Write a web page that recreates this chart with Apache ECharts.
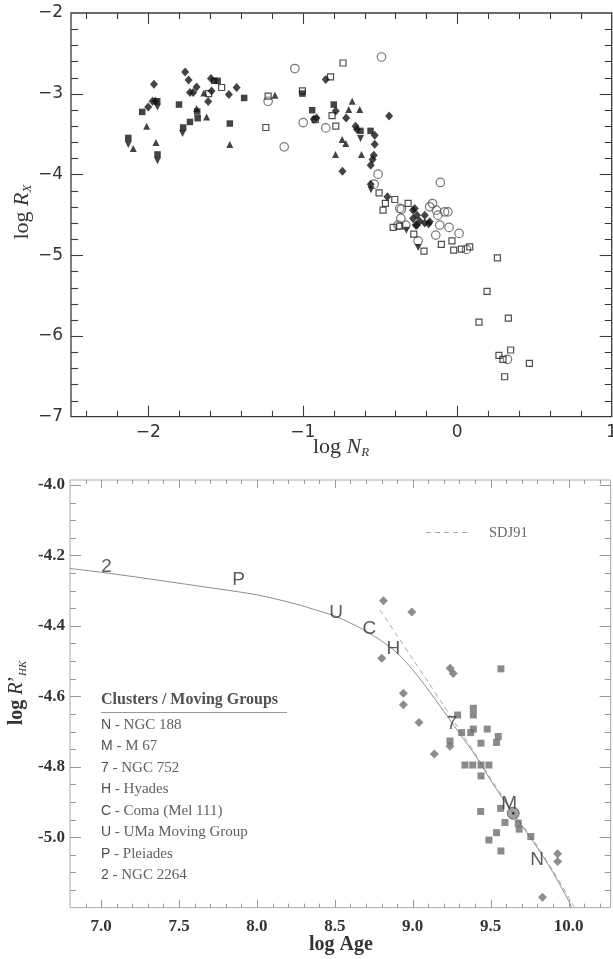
<!DOCTYPE html>
<html><head><meta charset="utf-8">
<script src="https://cdn.jsdelivr.net/npm/echarts@6/dist/echarts.min.js"></script>
<style>html,body{margin:0;padding:0;background:#fff}#c{width:613px;height:959px}</style>
</head><body><div id="c"></div>
<script>
// ---------- TOP PANEL DATA (log N_R vs log R_X) ----------
const topDiamonds = [[-1.963,-2.883],[-1.761,-2.730],[-1.739,-2.829],[-1.687,-2.916],[-1.730,-2.985],[-1.709,-2.985],[-1.594,-2.81],[-1.590,-2.965],[-1.612,-3.097],[-1.478,-3.01],[-1.428,-2.923],[-2.0,-3.163],[-1.972,-3.093],[-1.955,-3.093],
  [-0.851,-2.824],[-0.911,-3.30],[-0.928,-3.315],[-0.786,-3.213],[-0.719,-3.30],[-0.658,-3.402],[-0.648,-3.443],[-0.534,-3.514],[-0.534,-3.625],[-0.54,-3.761],[-0.548,-3.814],[-0.56,-3.885],[-0.743,-3.96],[-0.441,-3.275],[-0.56,-4.12],[-0.452,-4.277],
  [-0.275,-4.421],[-0.26,-4.504],[-0.286,-4.545],[-0.243,-4.578],[-0.21,-4.60],[-0.269,-4.627],[-0.178,-4.587],[-0.286,-4.444],[-0.21,-4.506],[-0.185,-4.609],[-0.261,-4.63]];
const topSquares = [[-1.573,-2.84],[-1.551,-2.84],[-1.379,-3.052],[-2.039,-3.225],[-1.942,-3.093],[-1.801,-3.134],[-1.683,-3.22],[-1.68,-3.303],[-1.73,-3.349],[-1.774,-3.418],[-1.472,-3.369],[-2.129,-3.547],[-1.94,-3.752],[-1.002,-2.998],[-0.939,-3.204],[-0.799,-3.134],[-0.626,-3.46],[-0.561,-3.46]];
const topTriangles = [[-1.640,-2.99],[-1.687,-3.183],[-1.622,-3.287],[-2.01,-3.402],[-1.472,-3.629],[-2.097,-3.678],[-1.95,-3.604],[-1.18,-3.018],[-0.68,-3.093],[-0.702,-3.196],[-0.631,-3.196],[-0.745,-3.567],[-0.721,-3.616],[-0.788,-3.752],[-0.62,-3.752]];
const topInvTriangles = [[-1.94,-3.163],[-1.778,-3.493],[-2.129,-3.629],[-1.94,-3.83],[-0.626,-3.555],[-0.329,-4.69],[-0.253,-4.903],[-0.558,-4.19]];
const topOpenSquares = [[-1.525,-2.923],[-1.609,-2.998],[-1.224,-3.03],[-1.239,-3.418],[-0.739,-2.619],[-0.82,-2.79],[-1.002,-2.965],[-0.919,-3.32],[-0.81,-3.27],[-0.786,-3.402],[-0.506,-4.228],[-0.465,-4.359],[-0.48,-4.442],[-0.404,-4.31],[-0.318,-4.359],[-0.415,-4.656],[-0.372,-4.64],[-0.281,-4.739],[-0.215,-4.949],[-0.103,-4.866],[-0.034,-4.822],[-0.023,-4.937],[0.027,-4.924],[0.081,-4.896],[0.26,-5.034],[0.193,-5.448],[0.141,-5.828],[0.331,-5.779],[0.346,-6.174],[0.27,-6.24],[0.296,-6.29],[0.467,-6.339],[0.307,-6.505]];
const topOpenCircles = [[-1.224,-3.093],[-1.051,-2.688],[-0.49,-2.545],[-0.997,-3.357],[-1.12,-3.658],[-0.851,-3.423],[-0.512,-3.996],[-0.538,-4.12],[-0.372,-4.42],[-0.16,-4.36],[-0.109,-4.099],[-0.361,-4.43],[-0.081,-4.463],[-0.06,-4.463],[-0.135,-4.442],[-0.178,-4.40],[-0.125,-4.504],[-0.113,-4.627],[-0.053,-4.656],[0.012,-4.73],[-0.139,-4.751],[-0.365,-4.545],[-0.383,-4.627],[-0.333,-4.627],[-0.253,-4.822],[0.06,-4.928],[0.325,-6.29]];
const topXLabels = [-2,-1,0,1];
const topYLabels = [-7,-6,-5,-4,-3,-2];
const topXMajor = [-2,-1,0];
const topXMinor = [-2.4,-2.2,-1.8,-1.6,-1.4,-1.2,-0.8,-0.6,-0.4,-0.2,0.2,0.4,0.6,0.8];
const topYMajor = [-6,-5,-4,-3];
const topYMinor = [-6.8,-6.6,-6.4,-6.2,-5.8,-5.6,-5.4,-5.2,-4.8,-4.6,-4.4,-4.2,-3.8,-3.6,-3.4,-3.2,-2.8,-2.6,-2.4,-2.2];

// ---------- BOTTOM PANEL DATA (log Age vs log R'HK) ----------
const curveSolid = [[6.8,-4.237],[7.0,-4.248],[7.25,-4.263],[7.5,-4.279],[7.75,-4.295],[8.0,-4.312],[8.25,-4.338],[8.4,-4.358],[8.5,-4.372],[8.6,-4.392],[8.7,-4.415],[8.8,-4.443],[8.9,-4.477],[9.0,-4.525],[9.1,-4.582],[9.2,-4.643],[9.3,-4.705],[9.4,-4.767],[9.5,-4.838],[9.6,-4.905],[9.7,-4.967],[9.8,-5.03],[9.9,-5.10],[10.0,-5.18],[10.02,-5.2]];
const curveSDJ91 = [[8.79,-4.355],[8.9,-4.428],[9.0,-4.494],[9.1,-4.56],[9.2,-4.627],[9.3,-4.695],[9.4,-4.762],[9.5,-4.833],[9.6,-4.9],[9.7,-4.963],[9.8,-5.025],[9.9,-5.095],[10.0,-5.17],[10.04,-5.2]];
const botDiamonds = [[8.812,-4.329],[8.994,-4.361],[8.801,-4.492],[8.94,-4.591],[8.94,-4.624],[9.04,-4.674],[9.139,-4.764],[9.24,-4.52],[9.26,-4.535],[9.239,-4.742],[9.93,-5.047],[9.93,-5.069],[9.833,-5.17]];
const botSquares = [[9.566,-4.522],[9.389,-4.634],[9.389,-4.653],[9.288,-4.653],[9.314,-4.703],[9.372,-4.703],[9.389,-4.693],[9.478,-4.693],[9.549,-4.714],[9.538,-4.731],[9.438,-4.733],[9.239,-4.727],[9.335,-4.795],[9.385,-4.795],[9.438,-4.795],[9.489,-4.795],[9.438,-4.826],[9.436,-4.927],[9.564,-4.918],[9.592,-4.958],[9.677,-4.96],[9.683,-4.977],[9.758,-4.998],[9.538,-4.987],[9.489,-5.008],[9.566,-5.039]];
const sunPoint = [[9.645,-4.932]];
const clusterMarks = [[7.034,-4.232,'2'],[7.882,-4.270,'P'],[8.508,-4.362,'U'],[8.722,-4.407,'C'],[8.876,-4.464,'H'],[9.25,-4.677,'7'],[9.619,-4.905,'M'],[9.799,-5.064,'N']];
const legendCodes = ['N','M','7','H','C','U','P','2'];
const legendNames = ['NGC 188','M 67','NGC 752','Hyades','Coma (Mel 111)','UMa Moving Group','Pleiades','NGC 2264'];
const botXLabels = [7.0,7.5,8.0,8.5,9.0,9.5,10.0];
const botYLabels = [-5.0,-4.8,-4.6,-4.4,-4.2,-4.0];
const botXMajor = [7.0,7.5,8.0,8.5,9.0,9.5,10.0];
const botXMinor = [6.9,7.1,7.2,7.3,7.4,7.6,7.7,7.8,7.9,8.1,8.2,8.3,8.4,8.6,8.7,8.8,8.9,9.1,9.2,9.3,9.4,9.6,9.7,9.8,9.9,10.1,10.2];
const botYMajor = [-5.0,-4.8,-4.6,-4.4,-4.2,-4.0];
const botYMinor = [-5.15,-5.1,-5.05,-4.95,-4.9,-4.85,-4.75,-4.7,-4.65,-4.55,-4.5,-4.45,-4.35,-4.3,-4.25,-4.15,-4.1,-4.05];

const chart = echarts.init(document.getElementById('c'), null, {renderer:'canvas'});

function inList(list, v){ return list.some(function(a){return Math.abs(a-v)<1e-6;}); }

function tickSeries(xi, majX, minX, majY, minY, lens, color, lw){
  const data = [];
  majX.forEach(function(v){data.push([v,0]);});
  minX.forEach(function(v){data.push([v,1]);});
  majY.forEach(function(v){data.push([v,2]);});
  minY.forEach(function(v){data.push([v,3]);});
  return {
    type:'custom', xAxisIndex:xi, yAxisIndex:xi, silent:true, z:5,
    data: data,
    encode:{x:0, y:0},
    renderItem: function(params, api){
      const cs = params.coordSys;
      const v = api.value(0), k = api.value(1);
      const st = {stroke:color, lineWidth:lw};
      const L = lens[k];
      if (k < 2){
        const px = api.coord([v, 0])[0];
        const x = Math.round(px)+0.5;
        return {type:'group', children:[
          {type:'line', shape:{x1:x,y1:cs.y+cs.height,x2:x,y2:cs.y+cs.height-L}, style:st},
          {type:'line', shape:{x1:x,y1:cs.y,x2:x,y2:cs.y+L}, style:st}
        ]};
      } else {
        const py = api.coord([0, v])[1];
        const y = Math.round(py)+0.5;
        return {type:'group', children:[
          {type:'line', shape:{x1:cs.x,y1:y,x2:cs.x+L,y2:y}, style:st},
          {type:'line', shape:{x1:cs.x+cs.width,y1:y,x2:cs.x+cs.width-L,y2:y}, style:st}
        ]};
      }
    }
  };
}

const serif = 'Liberation Serif';
const sans = 'DejaVu Sans';

const legendGraphics = [
  {type:'text', x:101, y:700, style:{text:'Clusters / Moving Groups', font:'bold 16px "Liberation Serif"', fill:'#505050', textAlign:'left', textVerticalAlign:'middle'}},
  {type:'line', shape:{x1:101, y1:712.5, x2:287, y2:712.5}, style:{stroke:'#999', lineWidth:1}}
];
legendCodes.forEach(function(c, i){
  legendGraphics.push({type:'text', x:101, y:725 + i*21.5, style:{
    text:'{a|'+c+'}{b| - '+legendNames[i]+'}',
    textAlign:'left', textVerticalAlign:'middle',
    rich:{a:{fontFamily:'Liberation Sans', fontSize:14, fill:'#505050'}, b:{fontFamily:serif, fontSize:15, fill:'#606060'}}
  }});
});

const titleGraphics = [
  {type:'text', x:341, y:447, style:{text:'{n|log }{i|N}{s|R}', textAlign:'center', textVerticalAlign:'middle',
    rich:{n:{fontFamily:serif, fontSize:22, fill:'#333', lineHeight:24}, i:{fontFamily:serif, fontStyle:'italic', fontSize:22, fill:'#333', lineHeight:24}, s:{fontFamily:serif, fontStyle:'italic', fontSize:13, fill:'#333', lineHeight:13, verticalAlign:'bottom'}}}},
  {type:'text', x:22, y:212, rotation:Math.PI/2, style:{text:'{n|log }{i|R}{s|X}', textAlign:'center', textVerticalAlign:'middle',
    rich:{n:{fontFamily:serif, fontSize:22, fill:'#333', lineHeight:24}, i:{fontFamily:serif, fontStyle:'italic', fontSize:22, fill:'#333', lineHeight:24}, s:{fontFamily:serif, fontStyle:'italic', fontSize:13, fill:'#333', lineHeight:13, verticalAlign:'bottom'}}}},
  {type:'text', x:341, y:945, style:{text:'log Age', font:'bold 20px "Liberation Serif"', fill:'#333', textAlign:'center', textVerticalAlign:'middle'}},
  {type:'text', x:17, y:693, rotation:Math.PI/2, style:{text:'{n|log }{i|R}{p|\u2019}{s|HK}', textAlign:'center', textVerticalAlign:'middle',
    rich:{n:{fontFamily:serif, fontWeight:'bold', fontSize:20, fill:'#333', lineHeight:24}, i:{fontFamily:serif, fontStyle:'italic', fontSize:20, fill:'#333', lineHeight:24}, p:{fontFamily:serif, fontSize:20, fill:'#333', lineHeight:24}, s:{fontFamily:serif, fontStyle:'italic', fontSize:11, fill:'#333', lineHeight:11, verticalAlign:'bottom'}}}},
  {type:'line', shape:{x1:426, y1:532.5, x2:468, y2:532.5}, style:{stroke:'#aaa', lineWidth:1, lineDash:[5,4]}},
  {type:'text', x:489, y:533, style:{text:'SDJ91', font:'14.5px "Liberation Serif"', fill:'#666', textAlign:'left', textVerticalAlign:'middle'}}
];

const option = {
  animation:false,
  backgroundColor:'#fff',
  grid:[
    {left:71, top:13, right:1.3, bottom:542.3, show:true, borderColor:'#3a3a3a', borderWidth:1.3, containLabel:false, outerBoundsMode:'none'},
    {left:70, top:480, right:2.4, bottom:51.3, show:true, borderColor:'#aaa', borderWidth:1, containLabel:false, outerBoundsMode:'none'}
  ],
  xAxis:[
    {type:'value', gridIndex:0, min:-2.5, max:1, axisLine:{show:false}, axisTick:{show:false}, splitLine:{show:false},
      axisLabel:{customValues:topXLabels, margin:7, fontFamily:sans, fontSize:17, color:'#333',
        formatter:function(v){ if(!inList(topXLabels,v)) return ''; return v<0 ? '\u2212'+Math.abs(v) : String(v); }}},
    {type:'value', gridIndex:1, min:6.8, max:10.27, axisLine:{show:false}, axisTick:{show:false}, splitLine:{show:false},
      axisLabel:{customValues:botXLabels, margin:10, fontFamily:serif, fontWeight:'bold', fontSize:17, color:'#333',
        formatter:function(v){ if(!inList(botXLabels,v)) return ''; return v.toFixed(1); }}}
  ],
  yAxis:[
    {type:'value', gridIndex:0, min:-7, max:-2, axisLine:{show:false}, axisTick:{show:false}, splitLine:{show:false},
      axisLabel:{customValues:topYLabels, margin:8, fontFamily:sans, fontSize:17, color:'#333',
        formatter:function(v){ if(!inList(topYLabels,v)) return ''; return '\u2212'+Math.abs(v); }}},
    {type:'value', gridIndex:1, min:-5.2, max:-3.986, axisLine:{show:false}, axisTick:{show:false}, splitLine:{show:false},
      axisLabel:{customValues:botYLabels, margin:5, fontFamily:serif, fontWeight:'bold', fontSize:17, color:'#333',
        formatter:function(v){ if(!inList(botYLabels,v)) return ''; return v.toFixed(1); }}}
  ],
  graphic: legendGraphics.concat(titleGraphics),
  series:[
    tickSeries(0, topXMajor, topXMinor, topYMajor, topYMinor, [11,6,12,7], '#3a3a3a', 1.1),
    tickSeries(1, botXMajor, botXMinor, botYMajor, botYMinor, [8,4,11,6], '#999', 1),
    {type:'scatter', xAxisIndex:0, yAxisIndex:0, data:topOpenCircles, symbol:'circle', symbolSize:8.5, itemStyle:{color:'rgba(255,255,255,0)', borderColor:'#555', borderWidth:1.2}, z:2},
    {type:'scatter', xAxisIndex:0, yAxisIndex:0, data:topOpenSquares, symbol:'rect', symbolSize:6, itemStyle:{color:'rgba(255,255,255,0)', borderColor:'#222', borderWidth:1.2}, z:2},
    {type:'scatter', xAxisIndex:0, yAxisIndex:0, data:topDiamonds, symbol:'diamond', symbolSize:[8,9], itemStyle:{color:'#151515'}, z:3},
    {type:'scatter', xAxisIndex:0, yAxisIndex:0, data:topSquares, symbol:'rect', symbolSize:6.5, itemStyle:{color:'#151515'}, z:3},
    {type:'scatter', xAxisIndex:0, yAxisIndex:0, data:topTriangles, symbol:'triangle', symbolSize:7, itemStyle:{color:'#151515'}, z:3},
    {type:'scatter', xAxisIndex:0, yAxisIndex:0, data:topInvTriangles, symbol:'triangle', symbolRotate:180, symbolSize:7, itemStyle:{color:'#151515'}, z:3},
    {type:'line', xAxisIndex:1, yAxisIndex:1, data:curveSolid, showSymbol:false, symbol:'none', smooth:0.3, lineStyle:{color:'#8c8c8c', width:1}, z:2},
    {type:'line', xAxisIndex:1, yAxisIndex:1, data:curveSDJ91, showSymbol:false, symbol:'none', smooth:0.3, lineStyle:{color:'#a8a8a8', width:1, type:[5,4]}, z:2},
    {type:'scatter', xAxisIndex:1, yAxisIndex:1, data:botDiamonds, symbol:'diamond', symbolSize:[9,9], itemStyle:{color:'#707070'}, z:3},
    {type:'scatter', xAxisIndex:1, yAxisIndex:1, data:botSquares, symbol:'rect', symbolSize:7, itemStyle:{color:'#6e6e6e'}, z:3},
    {type:'scatter', xAxisIndex:1, yAxisIndex:1, data:sunPoint, symbol:'circle', symbolSize:12, itemStyle:{color:'#8a8a8a', borderColor:'#5a5a5a', borderWidth:1}, z:4},
    {type:'scatter', xAxisIndex:1, yAxisIndex:1, data:sunPoint, symbol:'circle', symbolSize:2.5, itemStyle:{color:'#111'}, z:5},
    {type:'scatter', xAxisIndex:1, yAxisIndex:1, data:clusterMarks, symbol:'circle', symbolSize:1, itemStyle:{color:'rgba(0,0,0,0)'}, z:6,
      label:{show:true, position:'inside', formatter:function(p){return p.value[2];}, fontFamily:'Liberation Sans', fontSize:19, color:'#333'}}
  ]
};
chart.setOption(option);
</script></body></html>
